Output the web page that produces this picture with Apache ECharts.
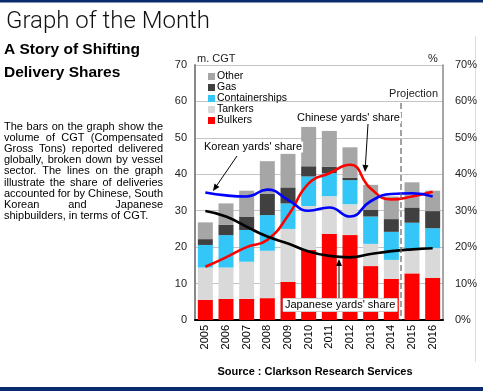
<!DOCTYPE html>
<html><head><meta charset="utf-8">
<script src="https://cdn.jsdelivr.net/npm/echarts@6/dist/echarts.min.js"></script>
<style>html,body{margin:0;padding:0;background:#fff}#c{width:483px;height:391px}</style>
</head><body><div id="c"></div>
<script>
var years = ['2005','2006','2007','2008','2009','2010','2011','2012','2013','2014','2015','2016'];
var bulkers = [5.5, 5.8, 5.8, 6.0, 10.5, 19.2, 23.6, 23.3, 14.8, 11.3, 12.8, 11.6];
var tankers = [8.9, 8.6, 10.2, 13.0, 14.5, 12.1, 10.4, 8.5, 6.1, 5.2, 6.7, 8.1];
var containers = [6.2, 8.9, 8.7, 9.8, 7.0, 8.1, 6.3, 6.6, 7.5, 7.7, 7.2, 5.5];
var gas = [1.6, 2.8, 3.7, 5.8, 4.4, 2.8, 1.8, 0.6, 1.8, 3.5, 4.2, 4.7];
var other = [4.6, 5.9, 7.1, 9.0, 9.2, 10.8, 9.8, 8.4, 6.9, 6.2, 6.9, 5.6];
var chineseShare = [14.6, 17.2, 20.0, 22.0, 28.6, 37.5, 40.3, 42.6, 36.1, 33.1, 33.9, 35.2];
var koreanShare = [35.0, 34.2, 33.9, 35.8, 33.0, 30.0, 30.9, 28.4, 32.6, 34.6, 34.8, 33.9];
var japaneseShare = [29.9, 28.4, 25.6, 22.9, 21.0, 18.8, 17.6, 17.2, 18.1, 18.9, 19.4, 19.7];
var leftTicks = [0, 10, 20, 30, 40, 50, 60, 70];
var paragraph = [
  'The bars on the graph show the',
  'volume of CGT (Compensated',
  'Gross Tons) reported delivered',
  'globally, broken down by vessel',
  'sector. The lines on the graph',
  'illustrate the share of deliveries',
  'accounted for by Chinese, South',
  'Korean and Japanese',
  'shipbuilders, in terms of CGT.'
];

var FONT = 'Liberation Sans, Arial, sans-serif';
var chart = echarts.init(document.getElementById('c'));

var ctx = document.createElement('canvas').getContext('2d');
var pFont = '11px ' + FONT;
ctx.font = pFont;
var graphics = [];
graphics.push({type:'rect', shape:{x:0,y:0,width:483,height:2.5}, style:{fill:'#0b2a6e'}});
graphics.push({type:'rect', shape:{x:0,y:387,width:483,height:4}, style:{fill:'#0b2a6e'}});
graphics.push({type:'line', shape:{x1:475.5,y1:36,x2:475.5,y2:362}, style:{stroke:'#dddddd', lineWidth:1}});
graphics.push({type:'text', style:{x:6, y:22, text:'Graph of the Month', font:'300 24px Roboto, ' + FONT, fill:'#111', textVerticalAlign:'middle'}});
graphics.push({type:'text', style:{x:4, y:49.5, text:'A Story of Shifting', font:'bold 15.5px ' + FONT, fill:'#000', textVerticalAlign:'middle'}});
graphics.push({type:'text', style:{x:4, y:73, text:'Delivery Shares', font:'bold 15.5px ' + FONT, fill:'#000', textVerticalAlign:'middle'}});
graphics.push({type:'text', style:{x:197, y:59, text:'m. CGT', font:'11px ' + FONT, fill:'#222', textVerticalAlign:'middle'}});
graphics.push({type:'text', style:{x:428, y:59, text:'%', font:'11px ' + FONT, fill:'#222', textVerticalAlign:'middle'}});
graphics.push({type:'text', style:{x:315, y:372, text:'Source : Clarkson Research Services', font:'bold 11px ' + FONT, fill:'#000', textAlign:'center', textVerticalAlign:'middle'}});

var pLeft = 4, pRight = 163, pTop = 127, pLH = 11.1;
paragraph.forEach(function (line, i) {
  var y = pTop + i * pLH;
  var words = line.split(' ');
  if (i === paragraph.length - 1) {
    graphics.push({type:'text', style:{x:pLeft, y:y, text:line, font:pFont, fill:'#000', textVerticalAlign:'middle'}});
    return;
  }
  var total = 0;
  words.forEach(function (w) { total += ctx.measureText(w).width; });
  var gap = (pRight - pLeft - total) / (words.length - 1);
  var x = pLeft;
  words.forEach(function (w) {
    graphics.push({type:'text', style:{x:x, y:y, text:w, font:pFont, fill:'#000', textVerticalAlign:'middle'}});
    x += ctx.measureText(w).width + gap;
  });
});

graphics.push({type:'line', shape:{x1:401,y1:103,x2:401,y2:320}, style:{stroke:'#666', lineWidth:1.2, lineDash:[6,3]}, z:50});
graphics.push({type:'text', style:{x:438, y:94, text:'Projection', font:'11px ' + FONT, fill:'#222', textAlign:'right', textVerticalAlign:'middle', backgroundColor:'#fff'}, z:60});

function arrow(x1, y1, x2, y2) {
  var a = Math.atan2(y2 - y1, x2 - x1), L = 7, W = 3;
  var bx = x2 - L * Math.cos(a), by = y2 - L * Math.sin(a);
  graphics.push({type:'line', shape:{x1:x1,y1:y1,x2:bx,y2:by}, style:{stroke:'#000', lineWidth:1}, z:70});
  graphics.push({type:'polygon', shape:{points:[[x2,y2],[bx + W*Math.sin(a), by - W*Math.cos(a)],[bx - W*Math.sin(a), by + W*Math.cos(a)]]}, style:{fill:'#000'}, z:70});
}
graphics.push({type:'text', style:{x:203, y:147, text:"Korean yards' share", font:'11px ' + FONT, fill:'#000', textVerticalAlign:'middle', backgroundColor:'#fff', padding:[0,1]}, z:65});
arrow(237, 156, 213, 191);
graphics.push({type:'text', style:{x:296, y:118, text:"Chinese yards' share", font:'11px ' + FONT, fill:'#000', textVerticalAlign:'middle', backgroundColor:'#fff', padding:[0,1]}, z:65});
arrow(368, 124, 365, 172);
graphics.push({type:'text', style:{x:283, y:305, text:"Japanese yards' share", font:'11px ' + FONT, fill:'#000', textVerticalAlign:'middle', backgroundColor:'#fff', borderColor:'#999', borderWidth:0.5, padding:[1,2]}, z:65});
arrow(339, 298, 339, 259);

function bar(name, data, color) {
  return {type:'bar', name:name, stack:'cgt', data:data, barWidth:15, itemStyle:{color:color}, z:2};
}
function line(name, data, color) {
  return {type:'line', name:name, yAxisIndex:1, data:data, smooth:0.5, symbol:'none', lineStyle:{color:color, width:2.6}, z:10};
}

chart.setOption({
  animation:false,
  textStyle:{fontFamily:FONT},
  grid:{left:195, right:40, top:65, bottom:71, show:false},
  legend:{
    data:['Other','Gas','Containerships','Tankers','Bulkers'],
    left:203, top:66, orient:'vertical', icon:'rect', itemWidth:7, itemHeight:7, itemGap:0,
    textStyle:{fontSize:10.5, color:'#000', lineHeight:11, padding:[0,0,0,-3]}, selectedMode:false
  },
  xAxis:{
    type:'category', data:years,
    axisLine:{lineStyle:{color:'#000', width:2}}, axisTick:{show:false},
    axisLabel:{rotate:90, fontSize:11, color:'#000', margin:5}
  },
  yAxis:[
    {type:'value', min:0, max:70, interval:10,
     axisLine:{show:true, lineStyle:{color:'#888', width:2}}, axisTick:{show:false},
     splitLine:{lineStyle:{color:'#c4c4c4', width:1}},
     axisLabel:{fontSize:11, color:'#222', margin:8}},
    {type:'value', min:0, max:70, interval:10, position:'right',
     axisLine:{show:true, lineStyle:{color:'#888', width:1.5}}, axisTick:{show:false},
     splitLine:{show:false},
     axisLabel:{fontSize:11, color:'#222', margin:12, formatter:'{value}%'}}
  ],
  series:[
    bar('Bulkers', bulkers, '#ff0000'),
    bar('Tankers', tankers, '#d9d9d9'),
    bar('Containerships', containers, '#33c6f6'),
    bar('Gas', gas, '#404040'),
    bar('Other', other, '#a6a6a6'),
    line("Chinese yards' share", chineseShare, '#ff0000'),
    line("Korean yards' share", koreanShare, '#0000ff'),
    line("Japanese yards' share", japaneseShare, '#000000')
  ],
  graphic:graphics
});
</script></body></html>
